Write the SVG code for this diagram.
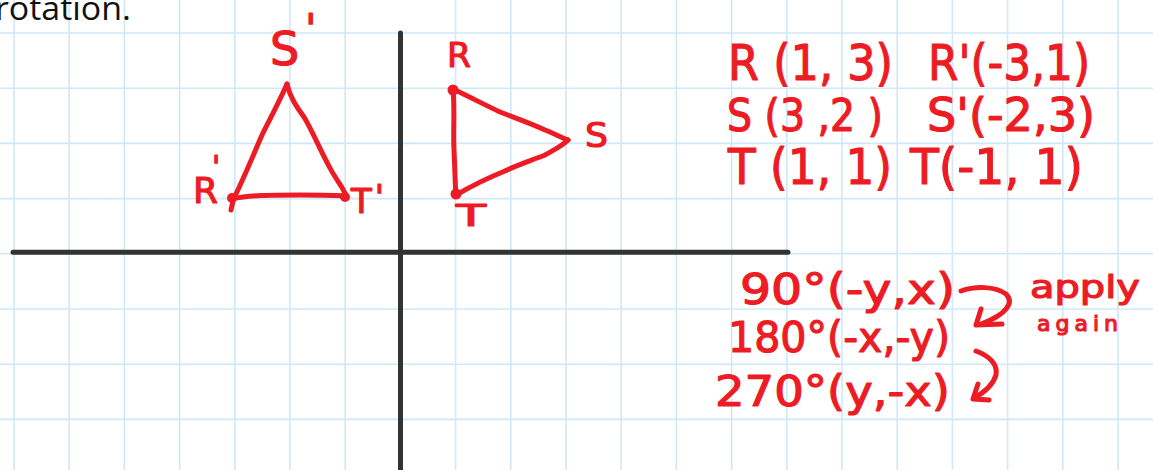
<svg xmlns="http://www.w3.org/2000/svg" width="1153" height="470" viewBox="0 0 1153 470">
<defs>
<style>
.grid line{stroke:#cfe8f8;stroke-width:1.6}
.axis{stroke:#333;stroke-width:5;stroke-linecap:round}
.ink{fill:none;stroke:#ed1c24;stroke-width:5;stroke-linecap:round;stroke-linejoin:round}
.dot{fill:#ed1c24}
.hw{font-family:"DejaVu Sans",sans-serif;fill:#ed1c24;stroke:#ed1c24;stroke-width:1.2;stroke-linejoin:round}
.print{font-family:"Open Sans",sans-serif;fill:#111}
</style>
</defs>
<rect width="1153" height="470" fill="#fff"/>
<g class="grid">
<line x1="14" y1="0" x2="14" y2="470"/><line x1="69.2" y1="0" x2="69.2" y2="470"/><line x1="124.4" y1="0" x2="124.4" y2="470"/><line x1="179.6" y1="0" x2="179.6" y2="470"/><line x1="234.8" y1="0" x2="234.8" y2="470"/><line x1="290" y1="0" x2="290" y2="470"/><line x1="345.2" y1="0" x2="345.2" y2="470"/><line x1="455.6" y1="0" x2="455.6" y2="470"/><line x1="510.8" y1="0" x2="510.8" y2="470"/><line x1="566" y1="0" x2="566" y2="470"/><line x1="621.2" y1="0" x2="621.2" y2="470"/><line x1="676.4" y1="0" x2="676.4" y2="470"/><line x1="731.6" y1="0" x2="731.6" y2="470"/><line x1="786.8" y1="0" x2="786.8" y2="470"/><line x1="842" y1="0" x2="842" y2="470"/><line x1="897.2" y1="0" x2="897.2" y2="470"/><line x1="952.4" y1="0" x2="952.4" y2="470"/><line x1="1007.6" y1="0" x2="1007.6" y2="470"/><line x1="1062.8" y1="0" x2="1062.8" y2="470"/><line x1="1118" y1="0" x2="1118" y2="470"/>
<line x1="0" y1="33" x2="1153" y2="33"/><line x1="0" y1="88.2" x2="1153" y2="88.2"/><line x1="0" y1="143.4" x2="1153" y2="143.4"/><line x1="0" y1="198.6" x2="1153" y2="198.6"/><line x1="0" y1="253.8" x2="1153" y2="253.8"/><line x1="0" y1="309" x2="1153" y2="309"/><line x1="0" y1="364.2" x2="1153" y2="364.2"/><line x1="0" y1="419.4" x2="1153" y2="419.4"/>
</g>
<text class="print" x="-5" y="19.5" font-size="33" textLength="136" lengthAdjust="spacingAndGlyphs">rotation.</text>
<g id="axes">
<line class="axis" x1="400.5" y1="33" x2="400.5" y2="475"/>
<line class="axis" x1="13" y1="252.3" x2="788" y2="252.3"/>
</g>
<g id="triangle-prime">
<path class="ink" d="M287,84 C280,100 272,115 262,135 C252,158 244,178 234,198"/>
<path class="ink" d="M287,84 C290,97 296,106 304,117 C313,132 320,150 330,168 C336,180 344,188 346,196"/>
<path class="ink" d="M232,199 C250,195 270,195 300,195 C320,195 335,195 346,196"/>
<path class="ink" d="M233,201 L231,210"/>
<circle class="dot" cx="232" cy="198" r="5"/>
<circle class="dot" cx="345" cy="197" r="5"/>
<text class="hw" x="270" y="65" font-size="46">S<tspan dx="6" dy="-22" font-size="40">'</tspan></text>
<text class="hw" x="193" y="203" font-size="36">R<tspan dx="-6" dy="-26" font-size="30">'</tspan></text>
<text class="hw" x="351" y="213" font-size="34">T<tspan dx="3" dy="-4" font-size="34">'</tspan></text>
</g>
<g id="triangle-RST">
<path class="ink" d="M453,89 C470,97 485,105 500,112 C515,118 528,122 545,130 C555,134 562,138 568,140"/>
<path class="ink" d="M568,140 C562,146 554,150 545,155 C530,161 515,166 505,171 C490,177 475,184 456,195"/>
<path class="ink" d="M453,89 C455,110 453,130 454,150 C455,170 455,183 456,195"/>
<circle class="dot" cx="453" cy="90" r="5.5"/>
<circle class="dot" cx="456" cy="194" r="5.5"/>
<text class="hw" x="447" y="67" font-size="34" textLength="24" lengthAdjust="spacingAndGlyphs">R</text>
<text class="hw" x="585" y="147" font-size="34" textLength="23" lengthAdjust="spacingAndGlyphs">S</text>
<text class="hw" x="456" y="226" font-size="30" textLength="30" lengthAdjust="spacingAndGlyphs">T</text>
</g>
<g id="coords">
<text class="hw" x="728" y="80" font-size="50" textLength="165" lengthAdjust="spacingAndGlyphs">R (1, 3)</text>
<text class="hw" x="928" y="80" font-size="50" textLength="162" lengthAdjust="spacingAndGlyphs">R'(-3,1)</text>
<text class="hw" x="727" y="131" font-size="44" textLength="156" lengthAdjust="spacingAndGlyphs">S (3 ,2 )</text>
<text class="hw" x="927" y="131" font-size="46" textLength="168" lengthAdjust="spacingAndGlyphs">S'(-2,3)</text>
<text class="hw" x="728" y="184" font-size="50" textLength="164" lengthAdjust="spacingAndGlyphs">T (1, 1)</text>
<text class="hw" x="910" y="184" font-size="50" textLength="173" lengthAdjust="spacingAndGlyphs">T(-1, 1)</text>
</g>
<g id="rules">
<text class="hw" x="740" y="304" font-size="42" textLength="215" lengthAdjust="spacingAndGlyphs">90°(-y,x)</text>
<text class="hw" x="728" y="352" font-size="42" textLength="222" lengthAdjust="spacingAndGlyphs">180°(-x,-y)</text>
<text class="hw" x="715" y="406" font-size="42" textLength="235" lengthAdjust="spacingAndGlyphs">270°(y,-x)</text>
<text class="hw" x="1030" y="298" font-size="32" textLength="110" lengthAdjust="spacingAndGlyphs">apply</text>
<text class="hw" x="1037" y="331" font-size="22" stroke-width="0.6" textLength="81" lengthAdjust="spacing">again</text>
</g>
<g id="connectors">
<path class="ink" d="M961,291 C975,286 995,286 1006,294 C1014,302 1008,314 981,324"/>
<path class="ink" d="M981,309 L976,325 L1002,324"/>
<path class="ink" d="M976,351 C990,356 998,365 996,375 C993,385 985,392 974,398"/>
<path class="ink" d="M978,384 L973,399 L989,400"/>
</g>
</svg>
